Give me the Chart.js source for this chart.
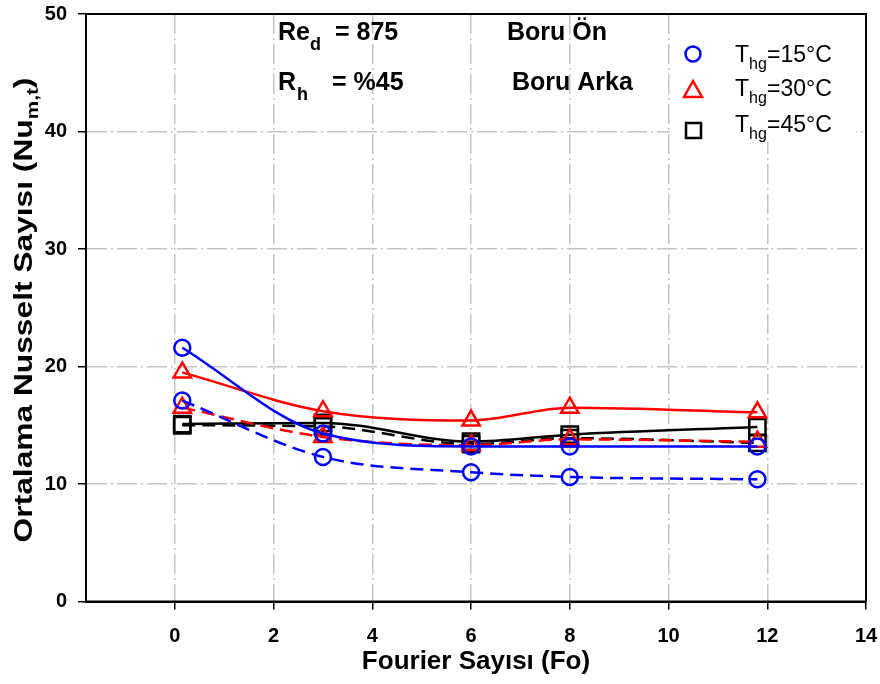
<!DOCTYPE html>
<html>
<head>
<meta charset="utf-8">
<script src="https://cdn.jsdelivr.net/npm/chart.js@4/dist/chart.umd.min.js"></script>
<style>
  body { margin: 0; background: #fff; }
  canvas { display: block; }
</style>
</head>
<body>
<canvas id="myChart" width="880" height="684"></canvas>
<script>
// Fourier sayısı (x)
const fo = [0.15, 3, 6, 8, 11.8];

// Boru Ön = düz çizgi, Boru Arka = kesikli çizgi
const on15 = [21.6, 14.3, 13.2, 13.2, 13.2];
const arka15 = [17.1, 12.3, 11.0, 10.6, 10.4];
const on30 = [19.5, 16.2, 15.4, 16.5, 16.1];
const arka30 = [16.5, 14.0, 13.3, 13.8, 13.6];
const on45 = [15.1, 15.2, 13.6, 14.2, 14.85];
const arka45 = [15.0, 14.9, 13.4, 13.9, 13.5];

const xTicks = [0, 2, 4, 6, 8, 10, 12, 14];
const yTicks = [0, 10, 20, 30, 40, 50];

const FONT = "'Liberation Sans', Arial, sans-serif";

const toPoints = (arr) => fo.map((x, i) => ({ x: x, y: arr[i] }));

const makeSet = (label, arr, color, style, radius, dashed) => {
  return {
    label: label,
    data: toPoints(arr),
    borderColor: color,
    backgroundColor: color,
    borderWidth: 2.5,
    borderDash: dashed ? [13, 7] : [],
    cubicInterpolationMode: 'monotone',
    pointStyle: style,
    pointRadius: radius,
    pointHoverRadius: radius,
    pointBorderWidth: 2.5,
    pointBorderColor: color,
    pointBackgroundColor: 'rgba(0,0,0,0)',
  };
};

const data = {
  datasets: [
    makeSet('15 ön', on15, '#0000ff', 'circle', 8, false),
    makeSet('15 arka', arka15, '#0000ff', 'circle', 8, true),
    makeSet('30 ön', on30, '#ff0000', 'triangle', 10, false),
    makeSet('30 arka', arka30, '#ff0000', 'triangle', 10, true),
    makeSet('45 ön', on45, '#000000', 'rect', 11.5, false),
    makeSet('45 arka', arka45, '#000000', 'rect', 11.5, true),
  ],
};

// yazı parçalarını (alt indisli) yan yana çiz
const drawRich = (ctx, parts, x, y) => {
  let cx = x;
  parts.forEach((p) => {
    ctx.font = p.font;
    if (p.x !== undefined) cx = p.x;
    ctx.fillText(p.t, cx, y + (p.dy || 0));
    cx += ctx.measureText(p.t).width;
  });
};

const extras = {
  id: 'extras',
  beforeDatasetsDraw(chart) {
    const ctx = chart.ctx;
    // legend kutusunun beyaz zemini
    ctx.save();
    ctx.fillStyle = '#fff';
    ctx.fillRect(670, 14, 186, 128);
    ctx.restore();
  },
  afterDraw(chart) {
    const ctx = chart.ctx;
    const a = chart.chartArea;
    ctx.save();
    // çerçeve
    ctx.strokeStyle = '#000';
    ctx.lineWidth = 2;
    ctx.strokeRect(a.left, a.top, a.right - a.left, a.bottom - a.top);

    ctx.fillStyle = '#000';
    ctx.textBaseline = 'alphabetic';
    ctx.textAlign = 'left';
    const B = 'bold 25px ' + FONT;
    const Bs = 'bold 18px ' + FONT;
    drawRich(ctx, [{ t: 'Re', font: B }, { t: 'd', font: Bs, dy: 10 }, { t: '= 875', font: B, x: 335 }], 278, 40);
    drawRich(ctx, [{ t: 'R', font: B }, { t: 'h', font: Bs, dy: 10, x: 297 }, { t: '= %45', font: B, x: 332 }], 278, 90);
    drawRich(ctx, [{ t: 'Boru Ön', font: B }], 507, 40);
    drawRich(ctx, [{ t: 'Boru Arka', font: B }], 512, 90);

    // legend
    const R = '23px ' + FONT;
    const Rs = '16px ' + FONT;
    const legendRows = [
      { txt: '=15°C', y: 62 },
      { txt: '=30°C', y: 96 },
      { txt: '=45°C', y: 132 },
    ];
    legendRows.forEach((r) => {
      ctx.fillStyle = '#000';
      drawRich(ctx, [{ t: 'T', font: R }, { t: 'hg', font: Rs, dy: 7, x: 749 }, { t: r.txt, font: R, x: 767 }], 735, r.y);
    });
    ctx.lineWidth = 2.5;
    ctx.strokeStyle = '#0000ff';
    ctx.beginPath();
    ctx.arc(693, 54, 7.5, 0, Math.PI * 2);
    ctx.stroke();
    ctx.strokeStyle = '#ff0000';
    ctx.beginPath();
    ctx.moveTo(693, 81);
    ctx.lineTo(702, 97);
    ctx.lineTo(684, 97);
    ctx.closePath();
    ctx.stroke();
    ctx.strokeStyle = '#000';
    ctx.strokeRect(686, 123, 15, 15);

    // y ekseni başlığı (metin yönünde biraz uzatılmış)
    ctx.translate(32, 310);
    ctx.rotate(-Math.PI / 2);
    ctx.scale(1.22, 1);
    ctx.fillStyle = '#000';
    const yb = 'bold 26px ' + FONT;
    const ys = 'bold 17px ' + FONT;
    ctx.font = yb;
    const w1 = ctx.measureText('Ortalama Nusselt Sayısı (Nu').width;
    ctx.font = ys;
    const w2 = ctx.measureText('m,t').width;
    ctx.font = yb;
    const w3 = ctx.measureText(')').width;
    const start = -(w1 + w2 + w3) / 2;
    drawRich(ctx, [{ t: 'Ortalama Nusselt Sayısı (Nu', font: yb }, { t: 'm,t', font: ys, dy: 6 }, { t: ')', font: yb }], start, 0);
    ctx.restore();
  },
};

const hideEdge = (edges) => (ctx) => (ctx.tick && edges.includes(ctx.tick.value) ? 'rgba(0,0,0,0)' : '#c4c4c4');

// etiket taşmalarını sıfırla, çizim alanı sabit kalsın
const noOverflow = (scale) => {
  scale.paddingLeft = 0;
  scale.paddingRight = 0;
  scale.paddingTop = 0;
  scale.paddingBottom = 0;
};

const config = {
  type: 'line',
  data: data,
  plugins: [extras],
  options: {
    responsive: false,
    animation: false,
    devicePixelRatio: 1,
    layout: { padding: { left: 0, right: 14, top: 13, bottom: 0 } },
    plugins: {
      legend: { display: false },
      tooltip: { enabled: false },
    },
    scales: {
      x: {
        type: 'linear',
        min: -1.8,
        max: 14,
        afterBuildTicks: (scale) => {
          scale.ticks = xTicks.map((v) => ({ value: v }));
        },
        afterFit: (scale) => {
          scale.height = 82.5;
          noOverflow(scale);
        },
        grid: {
          color: hideEdge([14]),
          lineWidth: 1.5,
          tickColor: '#000',
          tickLength: 8,
          tickWidth: 1.5,
          tickBorderDash: [],
        },
        border: { color: '#000', width: 2, dash: [20, 4, 2, 4] },
        ticks: {
          color: '#000',
          padding: 15,
          maxRotation: 0,
          autoSkip: false,
          font: { family: FONT, size: 20, weight: 'bold' },
        },
        title: {
          display: true,
          text: 'Fourier Sayısı (Fo)',
          color: '#000',
          padding: { top: 2, bottom: 7 },
          font: { family: FONT, size: 26, weight: 'bold' },
        },
      },
      y: {
        type: 'linear',
        min: 0,
        max: 50,
        afterBuildTicks: (scale) => {
          scale.ticks = yTicks.map((v) => ({ value: v }));
        },
        afterFit: (scale) => {
          scale.width = 86;
          noOverflow(scale);
        },
        grid: {
          color: hideEdge([0, 50]),
          lineWidth: 1.5,
          tickColor: '#000',
          tickLength: 8,
          tickWidth: 1.5,
          tickBorderDash: [],
        },
        border: { color: '#000', width: 2, dash: [20, 4, 2, 4] },
        ticks: {
          color: '#000',
          padding: 11,
          font: { family: FONT, size: 20, weight: 'bold' },
        },
      },
    },
  },
};

const chart = new Chart(document.getElementById('myChart'), config);
</script>
</body>
</html>
